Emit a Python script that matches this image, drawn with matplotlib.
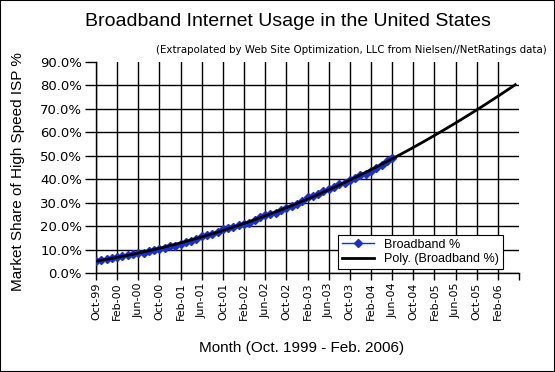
import numpy as np
import matplotlib
matplotlib.use("Agg")
import matplotlib.pyplot as plt

# monthly broadband share, Oct-99 .. Jun-04
broadband = [5.3, 5.6, 5.9, 6.5, 7.0, 7.3, 7.8, 8.2, 8.6, 8.4, 9.2, 9.6,
             10.4, 10.8, 11.4, 11.6, 12.4, 13.1, 13.6, 14.4, 15.6, 16.2, 16.8, 17.7,
             18.6, 19.4, 19.8, 20.4, 21.0, 21.5, 22.6, 23.8, 24.6, 25.2, 25.8, 26.9,
             27.7, 28.4, 29.3, 30.6, 32.3, 33.0, 33.8, 35.1, 35.9, 36.6, 37.8, 38.6,
             39.8, 40.7, 41.6, 42.4, 43.3, 44.6, 46.2, 47.6, 48.9]
tick_labels = ["Oct-99", "Feb-00", "Jun-00", "Oct-00", "Feb-01", "Jun-01", "Oct-01",
               "Feb-02", "Jun-02", "Oct-02", "Feb-03", "Jun-03", "Oct-03", "Feb-04",
               "Jun-04", "Oct-04", "Feb-05", "Jun-05", "Oct-05", "Feb-06"]
n_months = 80          # axis runs Oct-99 .. Jun-06
forecast_end = 79.3    # trendline forecast reaches ~May-06

months = np.arange(len(broadband))
coef = np.polyfit(months, broadband, 2)
trend_x = np.linspace(0, forecast_end, 200)
trend_y = np.polyval(coef, trend_x)

fig = plt.figure(figsize=(5.55, 3.72), dpi=100)
ax = fig.add_axes([96 / 555, 1 - 273 / 372, 423 / 555, 211 / 372])

ax.plot(months, broadband, color="#1a2fd0", lw=1, marker="D", ms=3.8,
        mec="#1a2fd0", mfc="#1a2fd0", label="Broadband %", zorder=3)
ax.plot(trend_x, trend_y, color="black", lw=2, label="Poly. (Broadband %)", zorder=4)

ax.set_xlim(0, n_months)
ax.set_ylim(0, 90)
ax.set_xticks(np.arange(0, n_months + 1, 4))
ax.set_xticklabels(tick_labels + [""], rotation=90, fontsize=8,
                   family="DejaVu Sans")
ax.set_yticks(np.arange(0, 91, 10))
ax.set_yticklabels([f"{v:.1f}%" for v in range(0, 91, 10)], fontsize=9.5)

ax.grid(True, color="black", lw=1)
# no gridline along the top, no gridline at the right end
ax.yaxis.get_gridlines()[-1].set_visible(False)
ax.xaxis.get_gridlines()[-1].set_visible(False)
for side in ("top", "right"):
    ax.spines[side].set_visible(False)
ax.spines["left"].set_linewidth(1)
ax.spines["bottom"].set_linewidth(1)
ax.tick_params(axis="y", length=8, width=1, pad=2)
ax.tick_params(axis="x", length=5, width=1, pad=2)
ax.set_axisbelow(True)

leg = ax.legend(loc="lower right", bbox_to_anchor=(407 / 423, 4 / 211),
                fancybox=False, framealpha=1, edgecolor="black",
                prop={"family": "Liberation Sans", "size": 9},
                borderpad=0.3, labelspacing=0.2, handlelength=2.6, borderaxespad=0)
leg.get_frame().set_linewidth(0.8)

fig.text(288 / 555, 1 - 22 / 372, "Broadband Internet Usage in the United States",
         ha="center", va="center", fontsize=14, family="Liberation Sans")
fig.text(547 / 555, 1 - 50 / 372,
         "(Extrapolated by Web Site Optimization, LLC from Nielsen//NetRatings data)",
         ha="right", va="center", fontsize=7.4)
fig.text(18 / 555, 1 - 172 / 372, "Market Share of High Speed ISP %",
         rotation=90, ha="center", va="center", fontsize=11, family="Liberation Sans")
fig.text(302 / 555, 1 - 348 / 372, "Month (Oct. 1999 - Feb. 2006)",
         ha="center", va="center", fontsize=11, family="Liberation Sans")

# thin frame around the whole image
fig.add_artist(plt.Rectangle((0, 0), 1, 1, transform=fig.transFigure,
                             fill=False, ec="black", lw=1.5))

fig.savefig("out.png", dpi=100)
